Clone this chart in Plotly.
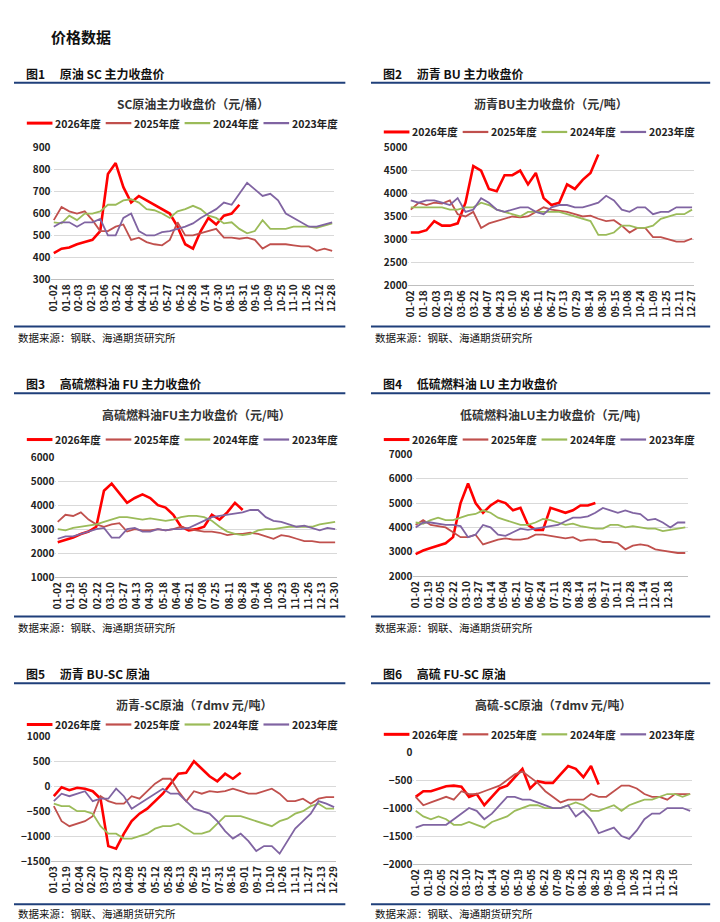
import plotly.graph_objects as go
from plotly.subplots import make_subplots

W, H = 720, 922

SERIES = ["2026年度", "2025年度", "2024年度", "2023年度"]
COLORS = ["#ff0000", "#c0504d", "#9bbb59", "#8064a2"]
WIDTHS = [2.6, 1.8, 1.8, 1.8]

# sampled day-of-year positions
days_full = list(range(1, 362, 10))   # 37 points
days_2026 = list(range(1, 242, 10))   # 25 points

# 图1 SC
sc_2026 = [420, 440, 445, 460, 470, 480, 520, 780, 830, 720, 650, 680, 660, 640, 620, 600, 540, 460, 440, 520, 580, 550, 590, 600, 640]
sc_2025 = [570, 630, 610, 600, 610, 570, 520, 520, 540, 550, 480, 490, 470, 460, 455, 480, 560, 500, 500, 510, 520, 530, 490, 490, 485, 490, 480, 440, 460, 460, 460, 455, 450, 450, 430, 440, 430]
sc_2024 = [560, 555, 590, 570, 600, 600, 610, 640, 640, 660, 665, 650, 620, 615, 600, 580, 610, 620, 635, 620, 590, 580, 555, 560, 530, 510, 520, 570, 530, 530, 530, 540, 540, 540, 535, 545, 555]
sc_2023 = [540, 560, 560, 540, 560, 560, 575, 500, 500, 580, 600, 520, 500, 500, 515, 520, 530, 540, 555, 580, 600, 620, 650, 640, 690, 740, 710, 680, 690, 660, 600, 580, 560, 540, 540, 550, 560]

# 图2 BU
bu_2026 = [3150, 3150, 3200, 3400, 3300, 3300, 3350, 3800, 4600, 4500, 4100, 4050, 4400, 4400, 4500, 4200, 4450, 3900, 3750, 3800, 4200, 4100, 4300, 4450, 4850]
bu_2025 = [3650, 3800, 3750, 3800, 3780, 3850, 3550, 3500, 3600, 3250, 3350, 3400, 3450, 3500, 3480, 3500, 3600, 3700, 3650, 3620, 3600, 3550, 3500, 3520, 3450, 3400, 3420, 3300, 3150, 3250, 3250, 3050, 3050, 3000, 2950, 2950, 3020]
bu_2024 = [3700, 3700, 3700, 3700, 3700, 3650, 3650, 3700, 3700, 3800, 3750, 3650, 3600, 3550, 3500, 3600, 3600, 3600, 3600, 3600, 3550, 3500, 3450, 3400, 3100, 3100, 3150, 3300, 3300, 3250, 3250, 3300, 3450, 3500, 3550, 3550, 3650]
bu_2023 = [3850, 3800, 3850, 3850, 3800, 3750, 3900, 3600, 3650, 3900, 3800, 3650, 3600, 3650, 3700, 3700, 3600, 3550, 3700, 3750, 3750, 3700, 3700, 3750, 3800, 3950, 3850, 3650, 3600, 3700, 3700, 3550, 3600, 3600, 3700, 3700, 3700]

# 图3 FU
fu_2026 = [2450, 2550, 2650, 2800, 2900, 3100, 4600, 4900, 4500, 4100, 4300, 4450, 4300, 4000, 3900, 3600, 3100, 2950, 3000, 3100, 3600, 3400, 3700, 4100, 3800]
fu_2025 = [3300, 3600, 3550, 3700, 3400, 3200, 3100, 3200, 3250, 2900, 3000, 2950, 2950, 3000, 2950, 3000, 3100, 3000, 2950, 2900, 2900, 2850, 2750, 2800, 2800, 2850, 2800, 2700, 2600, 2750, 2700, 2600, 2500, 2500, 2450, 2450, 2450]
fu_2024 = [3000, 2950, 3050, 3100, 3150, 3200, 3300, 3400, 3500, 3500, 3450, 3400, 3450, 3400, 3350, 3400, 3500, 3550, 3550, 3500, 3350, 3100, 2900, 2800, 2750, 2800, 2950, 3000, 3000, 3050, 3100, 3100, 3100, 3100, 3200, 3250, 3300]
fu_2023 = [2600, 2700, 2700, 2800, 2900, 3000, 3050, 2650, 2650, 3000, 3050, 2900, 2900, 3000, 2950, 3000, 3000, 3050, 3200, 3350, 3500, 3550, 3600, 3650, 3700, 3800, 3800, 3500, 3350, 3300, 3200, 3100, 3150, 3050, 2950, 3050, 3000]

# 图4 LU
lu_2026 = [2900, 3050, 3150, 3250, 3350, 3600, 5000, 5800, 5000, 4600, 4900, 5100, 5000, 4700, 4800, 4100, 3900, 3900, 4800, 4700, 4600, 4700, 4900, 4900, 5000]
lu_2025 = [4100, 4300, 4100, 4050, 4000, 3800, 3600, 3600, 3700, 3300, 3400, 3500, 3550, 3500, 3500, 3550, 3700, 3700, 3650, 3600, 3550, 3600, 3450, 3500, 3500, 3400, 3400, 3350, 3100, 3250, 3300, 3250, 3100, 3050, 3000, 2950, 2950]
lu_2024 = [4200, 4150, 4300, 4400, 4300, 4300, 4400, 4500, 4550, 4700, 4600, 4400, 4300, 4200, 4100, 4100, 4200, 4350, 4300, 4200, 4100, 4150, 4050, 4000, 3950, 3950, 4100, 4100, 4000, 4050, 4000, 3950, 3950, 3850, 3900, 3950, 4000]
lu_2023 = [4000, 4200, 4200, 4150, 4100, 4100, 4050, 3600, 3700, 4100, 4000, 3700, 3650, 3800, 3950, 3900, 3950, 4000, 4050, 4100, 4250, 4400, 4400, 4450, 4600, 4800, 4700, 4600, 4700, 4600, 4550, 4300, 4350, 4200, 4000, 4200, 4200]

# 图5 BU-SC
busc_2026 = [-200, -20, -80, -30, -50, -100, -250, -1200, -1250, -950, -700, -550, -450, -300, -150, 50, 250, 270, 500, 350, 200, 100, 250, 150, 270]
busc_2025 = [-400, -700, -800, -750, -700, -600, -200, -300, -350, -350, -200, -250, -100, 50, 150, 150, -100, -300, -100, -150, -100, -120, -100, -50, -100, -150, -150, -100, -50, -150, -300, -300, -250, -350, -250, -220, -220]
busc_2024 = [-350, -400, -400, -500, -500, -550, -800, -950, -950, -1050, -1050, -1000, -950, -850, -800, -800, -750, -850, -950, -950, -900, -750, -600, -600, -600, -650, -700, -750, -800, -700, -650, -550, -500, -400, -350, -450, -450]
busc_2023 = [-300, -150, -200, -150, -100, -300, -250, -250, -50, -200, -450, -350, -250, -150, -50, -150, -150, -300, -450, -500, -550, -700, -900, -1050, -950, -1100, -1300, -1200, -1200, -1350, -1100, -850, -700, -550, -300, -350, -420]

# 图6 FU-SC
fusc_2026 = [-800, -700, -700, -650, -610, -600, -620, -800, -750, -950, -800, -650, -600, -450, -300, -650, -520, -550, -550, -400, -250, -300, -450, -250, -580]
fusc_2025 = [-800, -950, -900, -850, -800, -850, -700, -750, -750, -700, -650, -600, -500, -400, -350, -450, -550, -700, -800, -900, -850, -850, -850, -750, -800, -800, -700, -600, -600, -650, -750, -800, -800, -850, -750, -750, -750]
fusc_2024 = [-1050, -1150, -1200, -1150, -1200, -1300, -1300, -1250, -1300, -1350, -1250, -1200, -1150, -1050, -1000, -950, -950, -1000, -1000, -1000, -950, -900, -950, -1050, -1050, -1000, -950, -1050, -950, -900, -850, -850, -800, -750, -750, -800, -750]
fusc_2023 = [-1350, -1300, -1300, -1300, -1300, -1200, -1100, -1000, -1050, -1200, -1100, -950, -800, -800, -850, -850, -900, -950, -1000, -1000, -950, -1150, -1050, -1200, -1450, -1400, -1350, -1500, -1550, -1400, -1200, -1100, -1100, -1000, -1000, -1000, -1050]

ticks1 = ["01-02", "01-18", "02-03", "02-19", "03-06", "03-22", "04-08", "04-24", "05-11", "05-27", "06-12", "06-28", "07-14", "07-30", "08-15", "08-31", "09-16", "10-09", "10-25", "11-10", "11-26", "12-12", "12-28"]
ticks2 = ["01-02", "01-18", "02-03", "02-19", "03-06", "03-22", "04-07", "04-23", "05-10", "05-26", "06-11", "06-27", "07-13", "07-29", "08-14", "08-30", "09-15", "10-08", "10-24", "11-09", "11-25", "12-11", "12-27"]
ticks3 = ["01-02", "01-19", "02-05", "02-22", "03-10", "03-27", "04-13", "04-30", "05-18", "06-04", "06-21", "07-08", "07-25", "08-11", "08-28", "09-14", "10-06", "10-23", "11-09", "11-26", "12-13", "12-30"]
ticks4 = ["01-02", "01-19", "02-05", "02-22", "03-10", "03-27", "04-14", "05-04", "05-21", "06-07", "06-24", "07-11", "07-28", "08-14", "08-31", "09-17", "10-11", "10-28", "11-14", "12-01", "12-18"]
ticks5 = ["01-03", "01-19", "02-04", "02-20", "03-07", "03-23", "04-09", "04-25", "05-12", "05-28", "06-13", "06-29", "07-15", "07-31", "08-16", "09-01", "09-17", "10-10", "10-26", "11-11", "11-27", "12-13", "12-29"]
ticks6 = ["01-02", "01-19", "02-05", "02-22", "03-10", "03-27", "04-14", "05-02", "05-19", "06-05", "06-22", "07-09", "07-26", "08-12", "08-29", "09-15", "10-09", "10-26", "11-12", "11-29", "12-16"]

panels = [
    dict(head="图1　 原油 SC 主力收盘价", title="SC原油主力收盘价（元/桶）", data=[sc_2026, sc_2025, sc_2024, sc_2023],
         ticks=ticks1, extra=0, yr=[300, 900], dt=100, box=(38, 325, 133, 267), row=(57, 88, 108, 315, 326)),
    dict(head="图2　 沥青 BU 主力收盘价", title="沥青BU主力收盘价（元/吨）", data=[bu_2026, bu_2025, bu_2024, bu_2023],
         ticks=ticks2, extra=0, yr=[2000, 5000], dt=500, box=(400, 690, 133, 273), row=(57, 88, 117, 315, 326)),
    dict(head="图3　 高硫燃料油 FU 主力收盘价", title="高硫燃料油FU主力收盘价（元/吨）", data=[fu_2026, fu_2025, fu_2024, fu_2023],
         ticks=ticks3, extra=0, yr=[1000, 6000], dt=1000, box=(42, 328, 448, 570), row=(373, 405, 430, 610, 621)),
    dict(head="图4　 低硫燃料油 LU 主力收盘价", title="低硫燃料油LU主力收盘价（元/吨)", data=[lu_2026, lu_2025, lu_2024, lu_2023],
         ticks=ticks4, extra=1.3, yr=[2000, 7000], dt=1000, box=(405, 683, 445, 569), row=(373, 405, 430, 610, 621)),
    dict(head="图5　 沥青 BU-SC 原油", title="沥青-SC原油（7dmv 元/吨）", data=[busc_2026, busc_2025, busc_2024, busc_2023],
         ticks=ticks5, extra=0, yr=[-1500, 1000], dt=500, box=(38, 327, 732, 859), row=(668, 700, 720, 903, 912)),
    dict(head="图6　 高硫 FU-SC 原油", title="高硫-SC原油（7dmv 元/吨）", data=[fusc_2026, fusc_2025, fusc_2024, fusc_2023],
         ticks=ticks6, extra=1.3, yr=[-2000, 0], dt=500, box=(405, 688, 748, 862), row=(668, 700, 730, 903, 912)),
]

fig = make_subplots(rows=3, cols=2)
annotations = [dict(text="<b>价格数据</b>", x=35 / W, y=1 - 20 / H, xref="paper", yref="paper",
                    xanchor="left", yanchor="middle", showarrow=False, font=dict(size=15, color="#111"))]
shapes = []
FONT = "Noto Sans CJK SC"
TICKFONT = dict(size=10, color="#222", weight="bold")


def px_x(v):
    return v / W


def px_y(v):
    return 1 - v / H


for i, p in enumerate(panels):
    r, c = i // 2 + 1, i % 2 + 1
    x0, x1, y0, y1 = p["box"]
    hy, ty, ly, by, sy = p["row"]
    left = 0 if c == 1 else 362
    right = 336 if c == 1 else 706
    for k in range(4):
        xs = days_2026 if k == 0 else days_full
        fig.add_trace(go.Scatter(x=xs, y=p["data"][k], mode="lines", name=SERIES[k], showlegend=False,
                                 line=dict(color=COLORS[k], width=WIDTHS[k])), row=r, col=c)
        # hand-drawn legend entry
        lx = left + 13 + k * 80
        shapes.append(dict(type="line", xref="paper", yref="paper", x0=px_x(lx), x1=px_x(lx + 26),
                           y0=px_y(ly), y1=px_y(ly), line=dict(color=COLORS[k], width=WIDTHS[k] + 0.4)))
        annotations.append(dict(text=f"<b>{SERIES[k]}</b>", x=px_x(lx + 27), y=px_y(ly), xref="paper", yref="paper",
                                xanchor="left", yanchor="middle", showarrow=False,
                                font=dict(size=10.5, color="#222")))
    n = len(p["ticks"])
    step = 360 / (n - 1 + p["extra"])
    tv = [1 + j * step for j in range(n)]
    fig.update_xaxes(row=r, col=c, domain=[px_x(x0), px_x(x1)], range=[-2, 364], tickvals=tv, ticktext=p["ticks"],
                     tickangle=-90, showgrid=False, showline=True, linecolor="#bfbfbf", ticks="",
                     tickfont=TICKFONT)
    fig.update_yaxes(row=r, col=c, domain=[px_y(y1), px_y(y0)], range=p["yr"], dtick=p["dt"],
                     showgrid=True, gridcolor="#d9d9d9", zeroline=False, tickfont=TICKFONT)
    annotations.append(dict(text=f"<b>{p['head']}</b>", x=px_x(left + 10), y=px_y(hy), xref="paper", yref="paper",
                            xanchor="left", yanchor="middle", showarrow=False, font=dict(size=12, color="#111")))
    annotations.append(dict(text=f"<b>{p['title']}</b>", x=px_x((x0 + x1) / 2), y=px_y(ty), xref="paper",
                            yref="paper", xanchor="center", yanchor="middle", showarrow=False,
                            font=dict(size=12, color="#333")))
    annotations.append(dict(text="数据来源：钢联、海通期货研究所", x=px_x(left + 2), y=px_y(sy), xref="paper",
                            yref="paper", xanchor="left", yanchor="middle", showarrow=False,
                            font=dict(size=10.5, color="#111")))
    for yy in (hy + 10, by):
        shapes.append(dict(type="line", xref="paper", yref="paper", x0=px_x(left), x1=px_x(right),
                           y0=px_y(yy), y1=px_y(yy), line=dict(color="#1f3f7a", width=2)))

fig.update_layout(width=W, height=H, margin=dict(l=0, r=0, t=0, b=0), plot_bgcolor="white",
                  paper_bgcolor="white", font=dict(family=FONT, color="#222"), showlegend=False,
                  annotations=annotations, shapes=shapes)
fig.write_html("out.html")
